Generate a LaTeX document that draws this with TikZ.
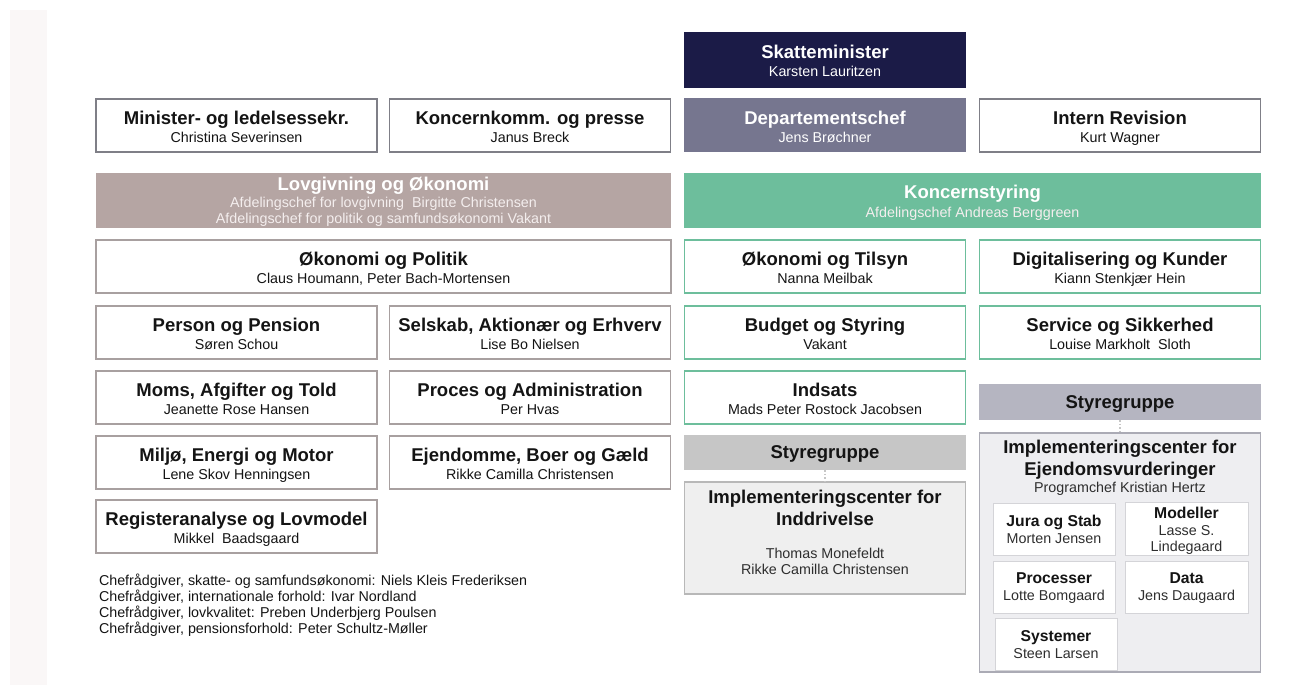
\documentclass[tikz,border=0pt]{standalone}
\usepackage{fontspec}
\setmainfont{Liberation Sans}
\usetikzlibrary{calc}
\definecolor{navy}{HTML}{1B1B47}
\definecolor{dept}{HTML}{76768F}
\definecolor{taupe}{HTML}{B5A5A3}
\definecolor{kgreen}{HTML}{6DBE9C}
\definecolor{lbord}{HTML}{A8A0A0}
\definecolor{tbord}{HTML}{7F7F87}
\definecolor{styLc}{HTML}{C6C6C6}
\definecolor{styRc}{HTML}{B5B5C1}
\definecolor{implLc}{HTML}{EFEFEF}
\definecolor{implRc}{HTML}{EEEEF1}
\definecolor{implLb}{HTML}{B8B8B8}
\definecolor{implRb}{HTML}{ABABB5}
\definecolor{innerb}{HTML}{D4D4D8}
\definecolor{stripc}{HTML}{FAF7F7}
\definecolor{txt}{HTML}{141414}
\definecolor{subtxt}{HTML}{2E2E2E}
\definecolor{bantxt}{HTML}{F4EEEE}
\newcommand\obox[7]{%
  \node[#2, anchor=north] (#1) at (#3,#4) {};
  \node[ttl, text=#7, anchor=base] (#1-t) at ($(#1.north)+(0,25.6)$) {#5};
  \node[subt, text=#7, anchor=base] (#1-s) at ($(#1.north)+(0,43.5)$) {#6};}
\newcommand\ibox[6]{%
  \node[inner, anchor=north] (#1) at (#2,#3) {};
  \node[ittl, anchor=base] (#1-t) at ($(#1.north)+(0,#6)$) {#4};
  \node[subt, anchor=base, align=center] (#1-s) at ($(#1.north)+(0,#6+16.4)$) {#5};}
\begin{document}
\begin{tikzpicture}[x=1pt,y=-1pt,
  every node/.style={inner sep=0pt, outer sep=0pt},
  bx/.style={draw=#1, fill=white, line width=1.3pt, minimum width=281pt, minimum height=53pt},
  ttl/.style={font=\fontsize{18.5}{21}\selectfont\bfseries},
  ittl/.style={font=\fontsize{15.7}{18}\selectfont\bfseries, text=txt},
  subt/.style={font=\fontsize{14.3}{16.4}\selectfont, text=subtxt},
  inner/.style={draw=innerb, fill=white, line width=1pt, minimum width=122pt, minimum height=52pt},
  dots/.style={draw=styLc, line width=1.6pt, dotted}
]
\useasboundingbox (0,0) rectangle (1305,693);
\fill[stripc] (10,10) rectangle (47,685);

% top
\obox{skm}{bx=navy, fill=navy, minimum height=54pt}{825}{33}{Skatteminister}{Karsten Lauritzen}{white}
\obox{dep}{bx=dept, fill=dept}{825}{98.5}{Departementschef}{Jens Brøchner}{white}
\obox{min}{bx=tbord}{236.5}{99}{Minister- og ledelsessekr.}{Christina Severinsen}{txt}
\obox{kom}{bx=tbord}{530}{99}{Koncernkomm. og presse}{Janus Breck}{txt}
\obox{rev}{bx=tbord}{1120}{99}{Intern Revision}{Kurt Wagner}{txt}

% banners
\node[fill=taupe, minimum width=575pt, minimum height=55pt, anchor=north] (lov) at (383.5,173) {};
\node[ttl, text=white, anchor=base] (lov-t) at ($(lov.north)+(0,17.6)$) {Lovgivning og Økonomi};
\node[subt, text=bantxt, anchor=base] (lov-s1) at ($(lov.north)+(0,34)$) {Afdelingschef for lovgivning\ \ Birgitte Christensen};
\node[subt, text=bantxt, anchor=base] (lov-s2) at ($(lov.north)+(0,50)$) {Afdelingschef for politik og samfundsøkonomi Vakant};
\node[fill=kgreen, minimum width=577pt, minimum height=55pt, anchor=north] (kst) at (972.5,173) {};
\node[ttl, text=white, anchor=base] (kst-t) at ($(kst.north)+(0,25.6)$) {Koncernstyring};
\node[subt, text=bantxt, anchor=base] (kst-s) at ($(kst.north)+(0,44)$) {Afdelingschef Andreas Berggreen};

% left column
\obox{okp}{bx=lbord, minimum width=575pt}{383.5}{240}{Økonomi og Politik}{Claus Houmann, Peter Bach-Mortensen}{txt}
\obox{pp}{bx=lbord}{236.5}{306}{Person og Pension}{Søren Schou}{txt}
\obox{sae}{bx=lbord}{530}{306}{Selskab, Aktionær og Erhverv}{Lise Bo Nielsen}{txt}
\obox{mat}{bx=lbord}{236.5}{371}{Moms, Afgifter og Told}{Jeanette Rose Hansen}{txt}
\obox{pa}{bx=lbord}{530}{371}{Proces og Administration}{Per Hvas}{txt}
\obox{mem}{bx=lbord}{236.5}{436}{Miljø, Energi og Motor}{Lene Skov Henningsen}{txt}
\obox{ebg}{bx=lbord}{530}{436}{Ejendomme, Boer og Gæld}{Rikke Camilla Christensen}{txt}
\obox{rl}{bx=lbord}{236.5}{500}{Registeranalyse og Lovmodel}{Mikkel\ \ Baadsgaard}{txt}

% footnotes
\node[subt, text=txt, anchor=base west] (f1) at (99,585) {Chefrådgiver, skatte- og samfundsøkonomi: Niels Kleis Frederiksen};
\node[subt, text=txt, anchor=base west] (f2) at (99,601) {Chefrådgiver, internationale forhold: Ivar Nordland};
\node[subt, text=txt, anchor=base west] (f3) at (99,617) {Chefrådgiver, lovkvalitet: Preben Underbjerg Poulsen};
\node[subt, text=txt, anchor=base west] (f4) at (99,633) {Chefrådgiver, pensionsforhold: Peter Schultz-Møller};

% right columns
\obox{okt}{bx=kgreen}{825}{240}{Økonomi og Tilsyn}{Nanna Meilbak}{txt}
\obox{dk}{bx=kgreen}{1120}{240}{Digitalisering og Kunder}{Kiann Stenkjær Hein}{txt}
\obox{bs}{bx=kgreen}{825}{306}{Budget og Styring}{Vakant}{txt}
\obox{ss}{bx=kgreen}{1120}{306}{Service og Sikkerhed}{Louise Markholt\ \ Sloth}{txt}
\obox{ind}{bx=kgreen}{825}{371}{Indsats}{Mads Peter Rostock Jacobsen}{txt}

% Styregruppe + Inddrivelse
\node[fill=styLc, minimum width=282pt, minimum height=35pt, anchor=north] (styL) at (825,435) {};
\node[ttl, text=txt, anchor=base] (styL-t) at ($(styL.north)+(0,23.6)$) {Styregruppe};
\node[draw=implLb, fill=implLc, line width=1.2pt, minimum width=281pt, minimum height=112pt, anchor=north] (implL) at (825,482) {};
\node[ttl, text=txt, anchor=base] (implL-t1) at ($(implL.north)+(0,21.6)$) {Implementeringscenter for};
\node[ttl, text=txt, anchor=base] (implL-t2) at ($(implL.north)+(0,43.6)$) {Inddrivelse};
\node[subt, anchor=base] (implL-s1) at ($(implL.north)+(0,76)$) {Thomas Monefeldt};
\node[subt, anchor=base] (implL-s2) at ($(implL.north)+(0,92)$) {Rikke Camilla Christensen};
\draw[dots] (styL.south) -- (implL.north);

% Styregruppe + Ejendomsvurderinger
\node[fill=styRc, minimum width=282pt, minimum height=36pt, anchor=north] (styR) at (1120,384) {};
\node[ttl, text=txt, anchor=base] (styR-t) at ($(styR.north)+(0,24.6)$) {Styregruppe};
\node[draw=implRb, fill=implRc, line width=1.2pt, minimum width=281pt, minimum height=239pt, anchor=north] (implR) at (1120,433) {};
\node[ttl, text=txt, anchor=base] (implR-t1) at ($(implR.north)+(0,20.6)$) {Implementeringscenter for};
\node[ttl, text=txt, anchor=base] (implR-t2) at ($(implR.north)+(0,42.6)$) {Ejendomsvurderinger};
\node[subt, anchor=base] (implR-s) at ($(implR.north)+(0,59)$) {Programchef Kristian Hertz};
\draw[dots] (styR.south) -- (implR.north);

\ibox{jura}{1054}{503}{Jura og Stab}{Morten Jensen}{23.6}
\node[inner, anchor=north, minimum width=123pt, minimum height=53pt] (mod) at (1186.5,502) {};
\node[ittl, anchor=base] (mod-t) at ($(mod.north)+(0,16.6)$) {Modeller};
\node[subt, anchor=base] (mod-s1) at ($(mod.north)+(0,33)$) {Lasse S.};
\node[subt, anchor=base] (mod-s2) at ($(mod.north)+(0,49)$) {Lindegaard};
\ibox{proc}{1054}{561}{Processer}{Lotte Bomgaard}{22.6}
\node[inner, anchor=north, minimum width=123pt] (data) at (1186.5,561) {};
\node[ittl, anchor=base] (data-t) at ($(data.north)+(0,22.6)$) {Data};
\node[subt, anchor=base] (data-s) at ($(data.north)+(0,39)$) {Jens Daugaard};
\ibox{sys}{1056}{618}{Systemer}{Steen Larsen}{23.6}
\end{tikzpicture}
\end{document}
